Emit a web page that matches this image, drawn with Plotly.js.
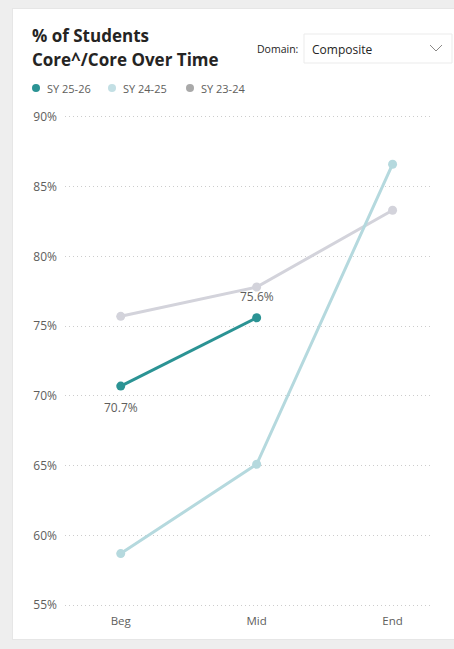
<!DOCTYPE html>
<html>
<head>
<meta charset="utf-8">
<script src="https://cdn.plot.ly/plotly-3.0.1.min.js"></script>
<style>
  html, body { margin: 0; padding: 0; background: #eeeeee; width: 454px; height: 649px; overflow: hidden; }
  #card { position: absolute; left: 12px; top: 8px; width: 450px; height: 632px; background: #ffffff; border: 1px solid #e6e6e6; box-sizing: border-box; }
  #chart { position: absolute; left: 0; top: 0; width: 454px; height: 649px; }
</style>
</head>
<body>
<div id="card"></div>
<div id="chart"></div>
<script>
const periods = ['Beg', 'Mid', 'End'];
const seriesNames = ['SY 25-26', 'SY 24-25', 'SY 23-24'];
const sy2526 = [70.7, 75.6, null];
const sy2425 = [58.7, 65.1, 86.6];
const sy2324 = [75.7, 77.8, 83.3];
const yTicks = [55, 60, 65, 70, 75, 80, 85, 90];
const yTickLabels = ['55%', '60%', '65%', '70%', '75%', '80%', '85%', '90%'];
const titleLines = ['% of Students', 'Core^/Core Over Time'];
const lineColors = ['#2b9394', '#b5d9de', '#d3d3db'];
const legendColors = ['#2b9394', '#c3dfe4', '#a9a9a9'];

const fontFam = '"Segoe UI", "Open Sans", "Noto Sans", sans-serif';
const grey = '#605e5c';

function mk(name, vals, color) {
  return {
    type: 'scatter', mode: 'lines+markers',
    x: periods, y: vals, name: name,
    line: { color: color, width: 3 },
    marker: { color: color, size: 9 },
    showlegend: false, hoverinfo: 'x+y+name'
  };
}

const data = [
  mk(seriesNames[2], sy2324, lineColors[2]),
  mk(seriesNames[1], sy2425, lineColors[1]),
  mk(seriesNames[0], sy2526, lineColors[0])
];

const W = 454, H = 649;
const m = { l: 65, r: 22, t: 114, b: 41 };
const pw = W - m.l - m.r, ph = H - m.t - m.b;
function px2x(p) { return (p - m.l) / pw; }
function px2y(p) { return (H - m.b - p) / ph; }

const annotations = [];
// data labels for SY 25-26
const labelShift = [-21, 21];
sy2526.forEach((v, i) => {
  if (v == null) return;
  annotations.push({ xref: 'x', yref: 'y', x: periods[i], y: v, yshift: labelShift[i],
    text: v.toFixed(1) + '%', showarrow: false,
    font: { family: fontFam, size: 12, color: grey } });
});

const legendX = [36, 112, 190];
const legShapes = seriesNames.map((n, i) => ({
  type: 'circle', xref: 'paper', yref: 'paper',
  x0: px2x(legendX[i] - 4), x1: px2x(legendX[i] + 4),
  y0: px2y(88 + 4), y1: px2y(88 - 4),
  fillcolor: legendColors[i], line: { width: 0 }
}));
seriesNames.forEach((n, i) => {
  annotations.push({ xref: 'paper', yref: 'paper', x: px2x(legendX[i] + 9), y: px2y(88),
    xanchor: 'left', yanchor: 'middle', text: n, showarrow: false,
    font: { family: fontFam, size: 11, color: grey } });
});

const titleY = [36, 60];
titleLines.forEach((t, i) => {
  annotations.push({ xref: 'paper', yref: 'paper', x: px2x(30), y: px2y(titleY[i]), xanchor: 'left', yanchor: 'middle',
    align: 'left', showarrow: false, text: '<b>' + t + '</b>',
    font: { family: fontFam, size: 17, color: '#252423' } });
});
annotations.push({ xref: 'paper', yref: 'paper', x: px2x(300), y: px2y(49), xanchor: 'right', yanchor: 'middle',
  showarrow: false, text: 'Domain:', font: { family: fontFam, size: 10.5, color: '#252423' } });
annotations.push({ xref: 'paper', yref: 'paper', x: px2x(310), y: px2y(49), xanchor: 'left', yanchor: 'middle',
  showarrow: false, text: 'Composite', font: { family: fontFam, size: 12, color: '#252423' } });

const boxShape = { type: 'rect', xref: 'paper', yref: 'paper',
  x0: px2x(304), x1: px2x(452), y0: px2y(63), y1: px2y(34),
  fillcolor: '#ffffff', line: { color: '#ebebeb', width: 1 } };
const chevron = { type: 'path', xref: 'paper', yref: 'paper',
  path: 'M ' + px2x(430) + ' ' + px2y(45) + ' L ' + px2x(436) + ' ' + px2y(51) + ' L ' + px2x(442) + ' ' + px2y(45),
  line: { color: '#8a8886', width: 1 } };

const layout = {
  width: W, height: H,
  margin: m,
  paper_bgcolor: 'rgba(0,0,0,0)',
  plot_bgcolor: 'rgba(0,0,0,0)',
  showlegend: false,
  xaxis: {
    type: 'category', range: [-0.41, 2.29], showgrid: false, zeroline: false, showline: false,
    ticklabelstandoff: 4,
    tickfont: { family: fontFam, size: 11.5, color: grey }, fixedrange: true
  },
  yaxis: {
    range: [54.8, 90.2], tickvals: yTicks, ticktext: yTickLabels,
    showgrid: true, gridcolor: '#cccccc', griddash: '1px,3px', gridwidth: 1,
    zeroline: false, showline: false, ticklabelstandoff: 7,
    tickfont: { family: fontFam, size: 12, color: grey }, fixedrange: true
  },
  shapes: [boxShape, chevron].concat(legShapes),
  annotations: annotations
};

Plotly.newPlot('chart', data, layout, { displayModeBar: false, staticPlot: true });
</script>
</body>
</html>
